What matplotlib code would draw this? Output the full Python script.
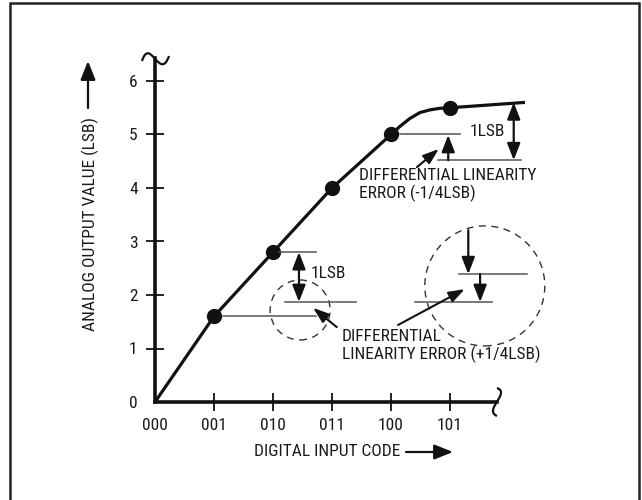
import matplotlib
matplotlib.use('Agg')
import matplotlib.pyplot as plt
from matplotlib import font_manager
from matplotlib.patches import Rectangle, Ellipse, PathPatch
from matplotlib.path import Path

# pick a narrow face if one is installed
narrow = [f.name for f in font_manager.fontManager.ttflist
          if 'narrow' in f.fname.lower() or 'condensed' in f.fname.lower()]
fams = []
for name in ['Liberation Sans Narrow', 'DejaVu Sans Condensed', 'Roboto Condensed']:
    if name in narrow:
        fams.append(name)
plt.rcParams['font.family'] = fams + ['DejaVu Sans']
plt.rcParams['font.stretch'] = 'condensed'

# data
codes = ['000', '001', '010', '011', '100', '101']
code_pos = [0, 1, 2, 3, 4, 5]
lsb_ticks = [0, 1, 2, 3, 4, 5, 6]
dot_values = [0, 1.6, 2.8, 4.0, 5.0, 5.5]
curve_x = [0, 1, 2, 3, 4, 4.15, 4.32, 4.49, 4.66, 4.83, 5.0, 6.27]
curve_y = [0, 1.6, 2.8, 4.0, 5.0, 5.15, 5.30, 5.41, 5.46, 5.49, 5.5, 5.6]

W, H = 642, 500
fig = plt.figure(figsize=(W / 100, H / 100), dpi=100)

def fpx(px, py):
    # pixel position -> figure fraction
    return (px / W, 1 - py / H)

# axes: x=0 at px 155, y=0 at py 402; 59 px per code, 53.5 px per LSB
ax = fig.add_axes([155 / W, (H - 402) / H, 7 * 59 / W, 7 * 53.5 / H])
ax.set_xlim(0, 7)
ax.set_ylim(0, 7)
ax.patch.set_visible(False)
for s in ['top', 'right']:
    ax.spines[s].set_visible(False)
for s in ['left', 'bottom']:
    ax.spines[s].set_linewidth(2.6)
    ax.spines[s].set_color('#111')
ax.spines['left'].set_bounds(0, 6.43)
ax.spines['bottom'].set_bounds(0, 5.8)

ax.set_xticks(code_pos)
ax.set_xticklabels(codes)
ax.set_yticks(lsb_ticks)
ax.set_yticklabels([str(v) for v in lsb_ticks])
ax.tick_params(direction='inout', length=13, width=1.3, labelsize=12.5,
               color='#111', labelcolor='#1a1a1a')
ax.tick_params(axis='x', pad=5)
ax.tick_params(axis='y', pad=6)
ax.xaxis.get_major_ticks()[0].tick1line.set_visible(False)
ax.yaxis.get_major_ticks()[0].tick1line.set_visible(False)

# transfer curve and code points
ax.plot(curve_x, curve_y, color='#111', lw=2.3, clip_on=False, solid_capstyle='butt')
ax.plot(code_pos[1:], dot_values[1:], 'o', color='#111', ms=10, clip_on=False)

gray = '#555'
def hline(y, x0, x1):
    ax.plot([x0, x1], [y, y], color=gray, lw=1.1, clip_on=False)

def arrow(tail, tip, style='-|>,head_length=0.85,head_width=0.33', lw=1.6, ms=12):
    ax.annotate('', xy=tip, xytext=tail, annotation_clip=False,
                arrowprops=dict(arrowstyle=style, lw=lw, color='#111',
                                shrinkA=0, shrinkB=0, mutation_scale=ms))

dbl = '<|-|>,head_length=0.85,head_width=0.33'

# left 1LSB annotation
hline(1.6, 1.15, 2.73)
hline(2.8, 2.1, 2.73)
hline(1.87, 2.2, 3.4)
arrow((2.44, 2.8), (2.44, 1.87), style=dbl)
ax.text(2.63, 2.41, '1LSB', ha='left', va='center', fontsize=12.5, color='#1a1a1a')
ax.add_patch(Ellipse((2.46, 1.72), 2 * 30 / 59, 2 * 30 / 53.5, fill=False,
                     ls=(0, (5, 4)), lw=1.0, ec='#333', clip_on=False))
arrow((3.08, 1.40), (2.68, 1.76), style='-|>,head_length=0.8,head_width=0.28', lw=1.5)

# right -1/4LSB annotation
hline(5.0, 4.15, 5.17)
hline(4.52, 4.8, 6.2)
arrow((6.08, 5.6), (6.08, 4.52), style=dbl)
arrow((4.97, 4.52), (4.97, 4.99), style='-|>,head_length=0.85,head_width=0.33')
ax.text(5.34, 5.05, '1LSB', ha='left', va='center', fontsize=12.5, color='#1a1a1a')
arrow((4.44, 4.39), (4.81, 4.73), style='-|>,head_length=0.8,head_width=0.28', lw=1.5)
ax.text(3.46, 4.38, 'DIFFERENTIAL LINEARITY\nERROR (-1/4LSB)', ha='left', va='top',
        fontsize=12.5, color='#1a1a1a', linespacing=1.15)

# right +1/4LSB circle
hline(2.39, 5.15, 6.31)
hline(1.87, 4.41, 5.71)
arrow((5.31, 3.21), (5.31, 2.39))
arrow((5.51, 2.39), (5.51, 1.87))
ax.add_patch(Ellipse((5.59, 2.17), 2 * 60 / 59, 2 * 60 / 53.5, fill=False,
                     ls=(0, (5, 4)), lw=1.0, ec='#333', clip_on=False))
arrow((4.12, 1.44), (5.25, 2.11), style='-|>,head_length=0.8,head_width=0.28', lw=1.5)
ax.text(3.17, 1.37, 'DIFFERENTIAL\nLINEARITY ERROR (+1/4LSB)', ha='left', va='top',
        fontsize=12.5, color='#1a1a1a', linespacing=1.15)

# break marks on the axis ends
def squiggle(pts):
    p = Path([fpx(*q) for q in pts], [Path.MOVETO, Path.CURVE4, Path.CURVE4, Path.CURVE4])
    fig.add_artist(PathPatch(p, fill=False, lw=1.6, ec='#111', transform=fig.transFigure))

squiggle([(142, 61), (150, 36), (160, 82), (169, 56)])
squiggle([(497, 388), (511, 393), (483, 410), (497, 416)])

# axis titles with arrows
fig.text(*fpx(90, 224), 'ANALOG OUTPUT VALUE (LSB)', rotation=90, ha='center', va='center',
         fontsize=12.5, color='#1a1a1a')
fig.text(*fpx(327, 452), 'DIGITAL INPUT CODE', ha='center', va='center',
         fontsize=12.5, color='#1a1a1a')
for tail, tip in [((88, 108), (88, 61)), ((406, 452), (453, 452))]:
    fig.add_artist(plt.Annotation('', xy=fpx(*tip), xytext=fpx(*tail),
                                  xycoords='figure fraction', textcoords='figure fraction',
                                  arrowprops=dict(arrowstyle='-|>,head_length=0.95,head_width=0.38',
                                                  lw=1.6, color='#111', shrinkA=0, shrinkB=0,
                                                  mutation_scale=12)))

# outer frame (open at the bottom)
fig.add_artist(Rectangle(fpx(10, 530), 629 / W, 527 / H, fill=False, lw=1.8,
                         ec='#222', transform=fig.transFigure))

plt.savefig('out.png', dpi=100)
